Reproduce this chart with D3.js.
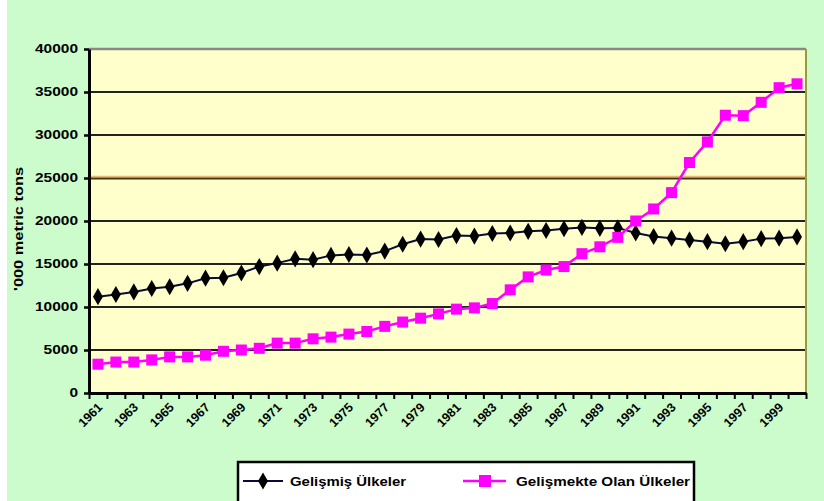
<!DOCTYPE html>
<html>
<head>
<meta charset="utf-8">
<script src="https://cdn.jsdelivr.net/npm/d3@7"></script>
<style>
  html, body { margin: 0; padding: 0; background: #ffffff; }
  svg { display: block; }
  text { font-family: "Liberation Sans", Arial, sans-serif; font-weight: bold; fill: #000; }
</style>
</head>
<body>
<svg id="chart" width="824" height="501"></svg>
<script>
// Years on the category axis
const years = [1961, 1962, 1963, 1964, 1965, 1966, 1967, 1968, 1969, 1970,
               1971, 1972, 1973, 1974, 1975, 1976, 1977, 1978, 1979, 1980,
               1981, 1982, 1983, 1984, 1985, 1986, 1987, 1988, 1989, 1990,
               1991, 1992, 1993, 1994, 1995, 1996, 1997, 1998, 1999, 2000];

// Labelled years (every second year)
const yearLabels = [1961, 1963, 1965, 1967, 1969, 1971, 1973, 1975, 1977, 1979,
                    1981, 1983, 1985, 1987, 1989, 1991, 1993, 1995, 1997, 1999];

// Value axis ticks ('000 metric tons)
const valueTicks = [0, 5000, 10000, 15000, 20000, 25000, 30000, 35000, 40000];

// Gelişmiş Ülkeler
const developed = [11200, 11450, 11750, 12150, 12350, 12750, 13350, 13400, 13950, 14700,
                   15100, 15600, 15500, 16000, 16100, 16050, 16500, 17300, 17900, 17850,
                   18300, 18250, 18550, 18600, 18800, 18900, 19100, 19250, 19150, 19200,
                   18600, 18200, 18000, 17800, 17600, 17350, 17600, 17950, 18000, 18150];

// Gelişmekte Olan Ülkeler
const developing = [3350, 3600, 3600, 3850, 4200, 4200, 4400, 4850, 5000, 5200,
                    5800, 5800, 6300, 6500, 6850, 7150, 7750, 8250, 8700, 9200,
                    9750, 9900, 10400, 12000, 13500, 14300, 14700, 16200, 17000, 18100,
                    20000, 21400, 23300, 26800, 29200, 32300, 32250, 33800, 35500, 35950];

const seriesNames = ["Gelişmiş Ülkeler", "Gelişmekte Olan Ülkeler"];

const W = 824, H = 501;
const plot = { left: 89, right: 806, top: 49, bottom: 393 };

const svg = d3.select("#chart");

// page background
svg.append("rect").attr("width", W).attr("height", H).attr("fill", "#ccfccc");
svg.append("rect").attr("width", 7).attr("height", H).attr("fill", "#ffffff");

const x = d3.scaleBand().domain(years).range([plot.left, plot.right]).padding(0);
const xEdge = d3.scaleLinear().domain([0, years.length]).range([plot.left, plot.right]);
const y = d3.scaleLinear().domain([0, 40000]).range([plot.bottom, plot.top]);
const cx = d => x(d) + x.bandwidth() / 2;

// plot area
svg.append("rect")
  .attr("x", plot.left).attr("y", plot.top)
  .attr("width", plot.right - plot.left).attr("height", plot.bottom - plot.top)
  .attr("fill", "#ffffcc");

// horizontal gridlines
const grid = svg.append("g");
valueTicks.filter(v => v > 0 && v < 40000).forEach(v => {
  if (v === 25000) {
    grid.append("line")
      .attr("x1", plot.left).attr("x2", plot.right)
      .attr("y1", y(v) - 1.5).attr("y2", y(v) - 1.5)
      .attr("stroke", "#f0b478").attr("stroke-width", 1.5);
    grid.append("line")
      .attr("x1", plot.left).attr("x2", plot.right)
      .attr("y1", y(v) + 0.5).attr("y2", y(v) + 0.5)
      .attr("stroke", "#3a3a10").attr("stroke-width", 2);
  } else {
    grid.append("line")
      .attr("x1", plot.left).attr("x2", plot.right)
      .attr("y1", y(v)).attr("y2", y(v))
      .attr("stroke", "#222222").attr("stroke-width", 2.2);
  }
});

// top and right frame
svg.append("line")
  .attr("x1", plot.left).attr("x2", plot.right)
  .attr("y1", y(40000)).attr("y2", y(40000))
  .attr("stroke", "#8a8a80").attr("stroke-width", 2.5);
svg.append("line")
  .attr("x1", plot.right).attr("x2", plot.right)
  .attr("y1", plot.top).attr("y2", plot.bottom)
  .attr("stroke", "#9a9a40").attr("stroke-width", 2);

// value axis
const yAxis = svg.append("g")
  .attr("transform", `translate(${plot.left},0)`)
  .call(d3.axisLeft(y).tickValues(valueTicks).tickSize(5).tickSizeOuter(0).tickPadding(6)
        .tickFormat(d3.format("d")));
yAxis.select(".domain").attr("stroke", "#000").attr("stroke-width", 3);
yAxis.selectAll(".tick line").attr("stroke", "#000").attr("stroke-width", 2.5);
yAxis.selectAll(".tick text")
  .style("font-size", "12px").style("font-weight", "bold")
  .attr("font-family", "Liberation Sans, Arial, sans-serif")
  .attr("textLength", d => String(d).length * 8.6)
  .attr("lengthAdjust", "spacingAndGlyphs");

// category axis: ticks between categories
const xAxis = svg.append("g")
  .attr("transform", `translate(0,${plot.bottom})`)
  .call(d3.axisBottom(xEdge).tickValues(d3.range(0, years.length + 1)).tickSize(6)
        .tickSizeOuter(0).tickFormat(""));
xAxis.select(".domain").attr("stroke", "#000").attr("stroke-width", 3);
xAxis.selectAll(".tick line").attr("stroke", "#000").attr("stroke-width", 2);

// rotated year labels
svg.append("g").selectAll("text")
  .data(yearLabels)
  .join("text")
  .attr("transform", d => `translate(${cx(d) + 2},${plot.bottom + 12}) rotate(-45)`)
  .attr("text-anchor", "end")
  .attr("dy", "0.35em")
  .style("font-size", "12.5px")
  .text(d => d);

// axis title
svg.append("text")
  .attr("transform", `translate(23,${(plot.top + plot.bottom) / 2 + 8}) rotate(-90)`)
  .attr("text-anchor", "middle")
  .style("font-size", "13px")
  .attr("textLength", 124)
  .attr("lengthAdjust", "spacingAndGlyphs")
  .text("'000 metric tons");

// series
const line = d3.line().x((d, i) => cx(years[i])).y(d => y(d));

svg.append("path").datum(developed)
  .attr("d", line).attr("fill", "none")
  .attr("stroke", "#0a0a3a").attr("stroke-width", 2);
svg.append("g").selectAll("path")
  .data(developed).join("path")
  .attr("transform", (d, i) => `translate(${cx(years[i])},${y(d)})`)
  .attr("d", d3.symbol(d3.symbolDiamond, 85))
  .attr("fill", "#000");

svg.append("path").datum(developing)
  .attr("d", line).attr("fill", "none")
  .attr("stroke", "#ff00ff").attr("stroke-width", 2.5);
svg.append("g").selectAll("rect")
  .data(developing).join("rect")
  .attr("x", (d, i) => cx(years[i]) - 5.5).attr("y", d => y(d) - 5.5)
  .attr("width", 11).attr("height", 11)
  .attr("fill", "#ff00ff");

// legend
const lg = svg.append("g");
lg.append("rect")
  .attr("x", 238).attr("y", 462).attr("width", 456).attr("height", 50)
  .attr("fill", "#ffffff").attr("stroke", "#000").attr("stroke-width", 2.5);

const legendY = 481;
lg.append("line").attr("x1", 243).attr("x2", 283).attr("y1", legendY).attr("y2", legendY)
  .attr("stroke", "#0a0a3a").attr("stroke-width", 2);
lg.append("path").attr("transform", `translate(263,${legendY})`)
  .attr("d", d3.symbol(d3.symbolDiamond, 85)).attr("fill", "#000");
lg.append("text").attr("x", 290).attr("y", legendY + 5)
  .style("font-size", "13px")
  .attr("textLength", 116).attr("lengthAdjust", "spacingAndGlyphs")
  .text(seriesNames[0]);

lg.append("line").attr("x1", 463).attr("x2", 506).attr("y1", legendY).attr("y2", legendY)
  .attr("stroke", "#ff00ff").attr("stroke-width", 2.5);
lg.append("rect").attr("x", 479).attr("y", legendY - 6).attr("width", 12).attr("height", 12)
  .attr("fill", "#ff00ff");
lg.append("text").attr("x", 516).attr("y", legendY + 5)
  .style("font-size", "13px")
  .attr("textLength", 174).attr("lengthAdjust", "spacingAndGlyphs")
  .text(seriesNames[1]);
</script>
</body>
</html>
